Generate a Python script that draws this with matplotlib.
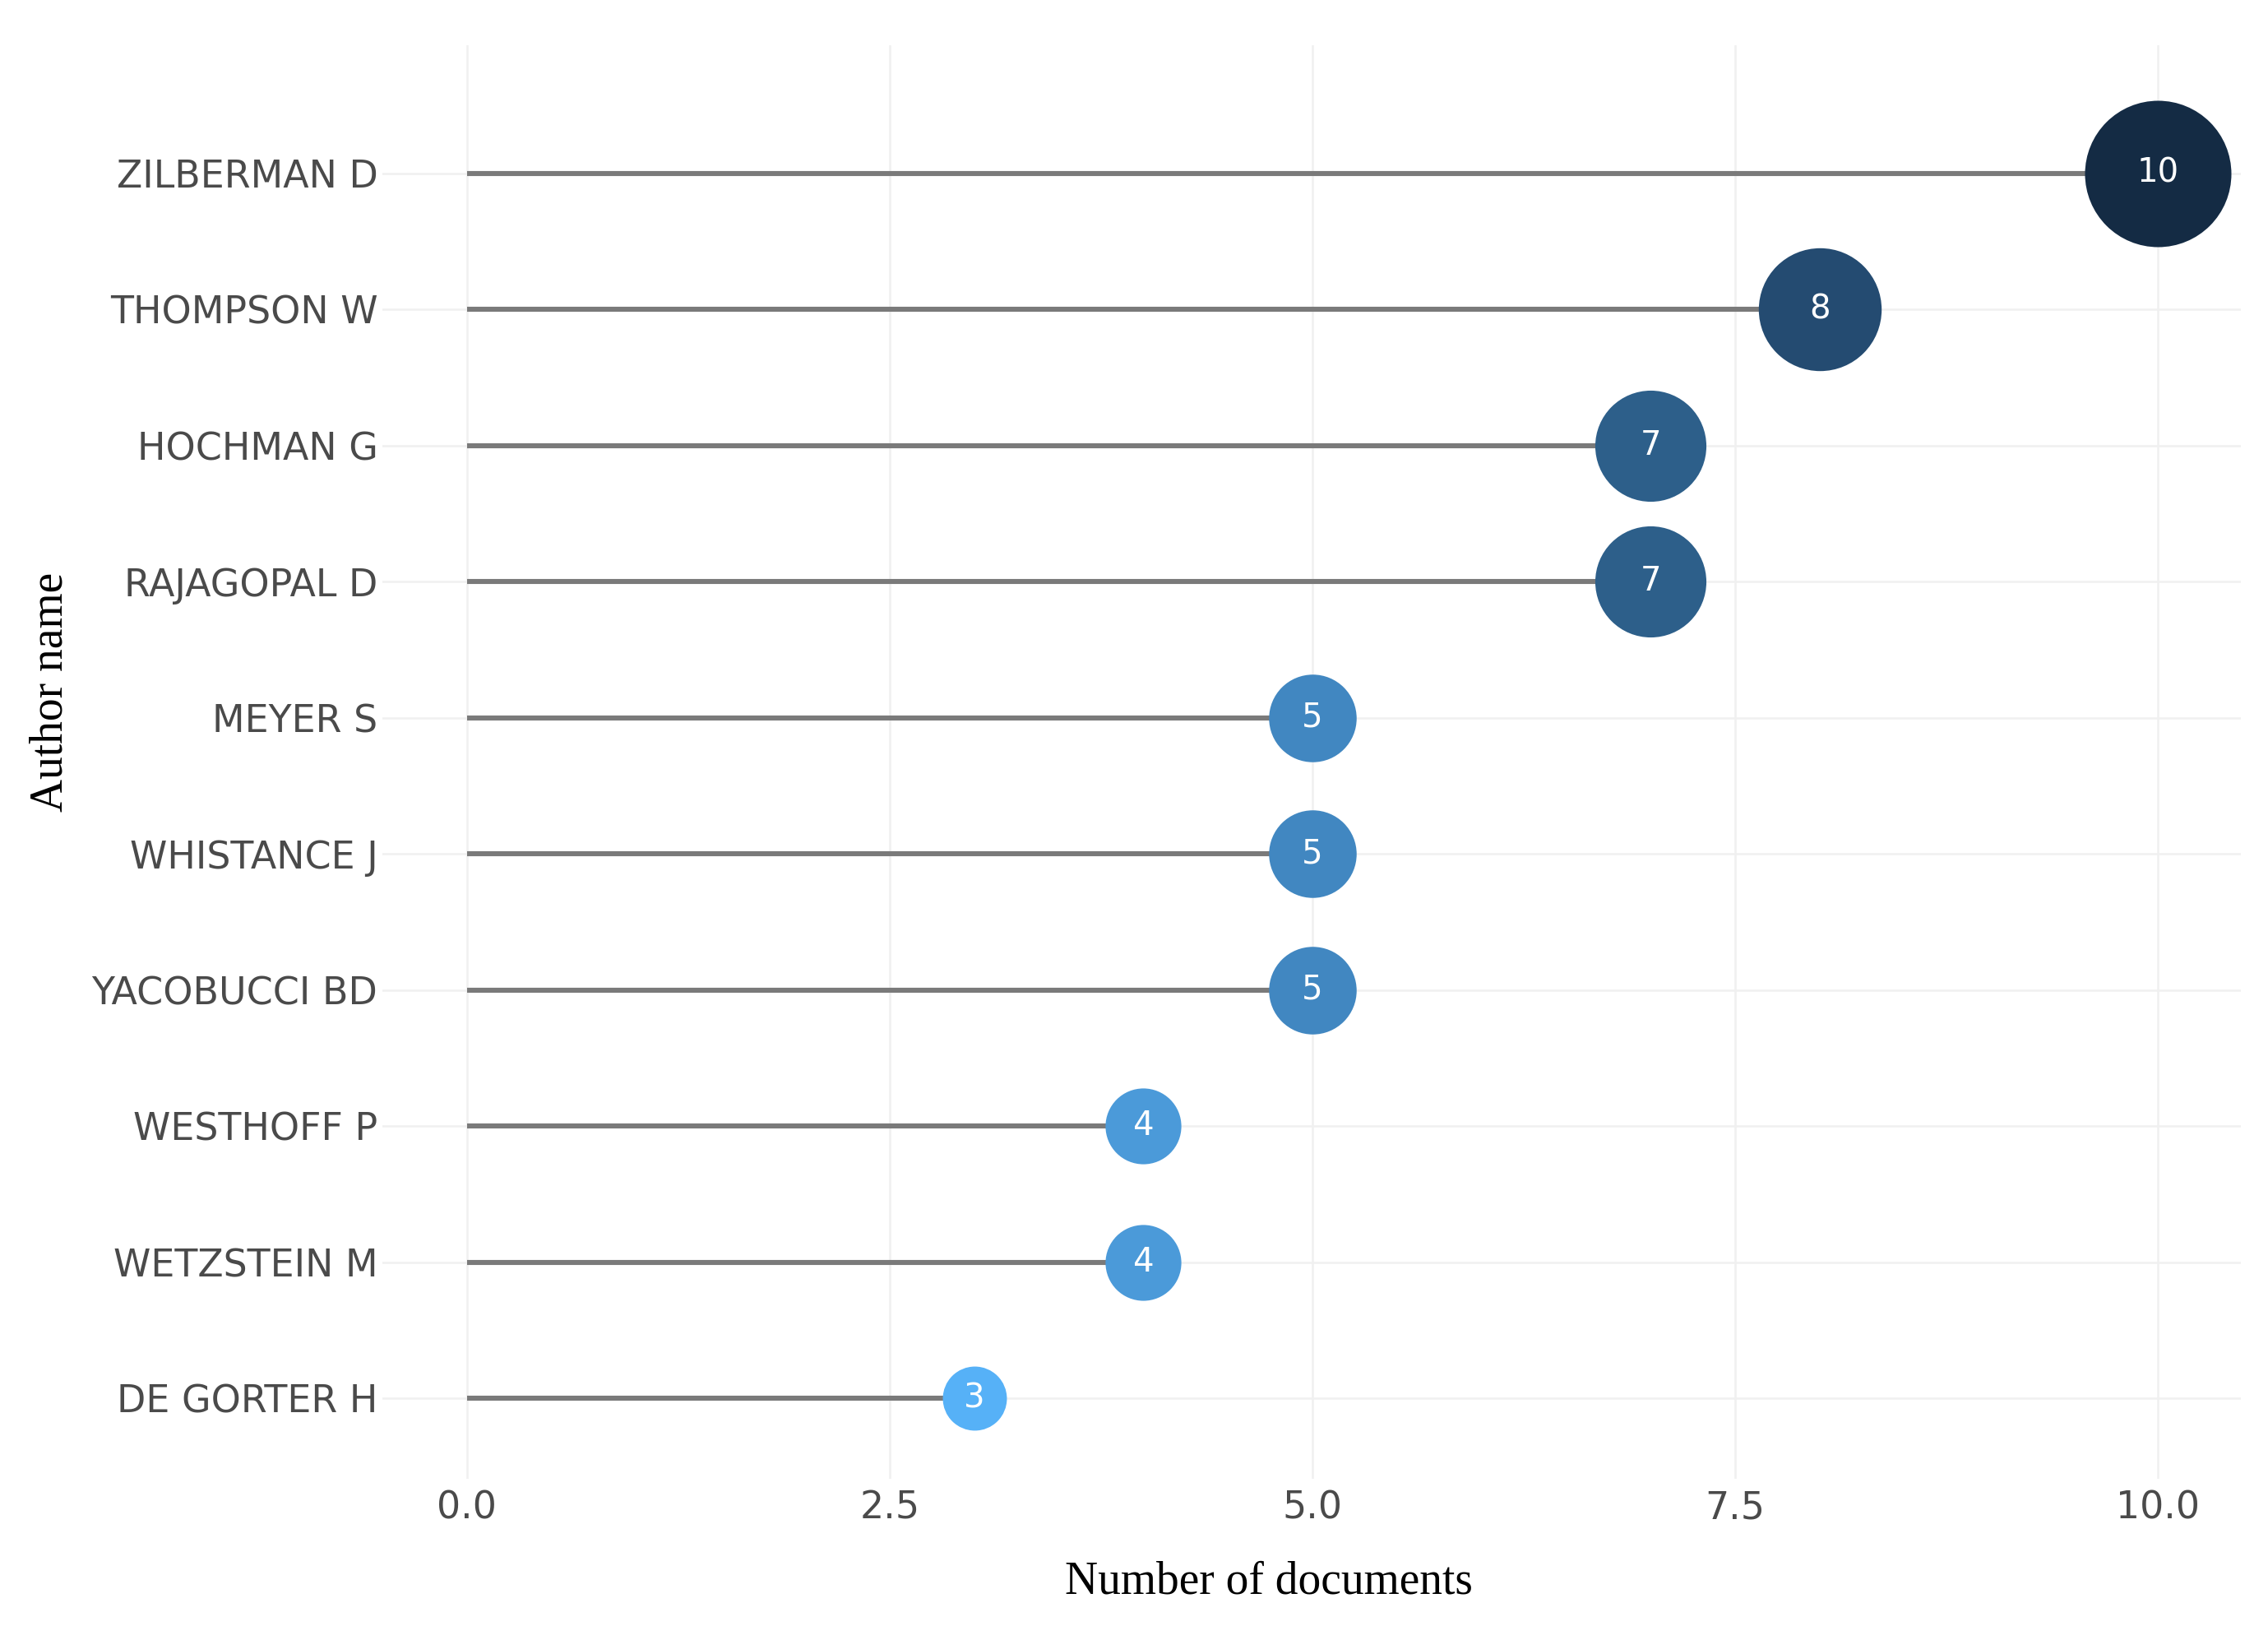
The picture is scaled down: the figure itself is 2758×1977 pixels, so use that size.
import matplotlib
matplotlib.use('Agg')
import matplotlib.pyplot as plt
from matplotlib.colors import LinearSegmentedColormap, Normalize

plt.rcParams['font.family'] = ['DejaVu Sans']

# ── Data (top to bottom as shown) ──
authors = ['ZILBERMAN D', 'THOMPSON W', 'HOCHMAN G', 'RAJAGOPAL D', 'MEYER S',
           'WHISTANCE J', 'YACOBUCCI BD', 'WESTHOFF P', 'WETZSTEIN M', 'DE GORTER H']
n_docs = [10, 8, 7, 7, 5, 5, 5, 4, 4, 3]
x_ticks = [0.0, 2.5, 5.0, 7.5, 10.0]

DPI = 200
fig = plt.figure(figsize=(2758 / DPI, 1977 / DPI), dpi=DPI, facecolor='white')
ax = fig.add_axes([465 / 2758, 1 - 1798 / 1977, (2725 - 465) / 2758, (1798 - 55) / 1977])

cmap = LinearSegmentedColormap.from_list('docs', [
    (0.00, '#56b1f7'), (0.14, '#4b9ad9'), (0.29, '#4187c0'),
    (0.57, '#2d5f8a'), (0.71, '#244b72'), (1.00, '#142b44')])
norm = Normalize(vmin=min(n_docs), vmax=max(n_docs))

ypos = list(range(len(authors)))[::-1]

for y, v in zip(ypos, n_docs):
    ax.plot([0, v], [y, y], color='#7a7a7a', linewidth=2.2, solid_capstyle='butt', zorder=2)
    d_px = 35 + 14.3 * v
    ax.plot([v], [y], 'o', markersize=d_px * 72 / DPI, color=cmap(norm(v)),
            markeredgewidth=0, zorder=3)
    ax.text(v, y, str(v), ha='center', va='center', color='white',
            fontsize=14.5, fontweight='medium', zorder=4)

ax.set_xlim(-0.50, 10.49)
ax.set_ylim(-0.59, 9.94)
ax.set_xticks(x_ticks)
ax.set_xticklabels([f'{t:.1f}' for t in x_ticks])
ax.set_yticks(ypos)
ax.set_yticklabels(authors)
ax.tick_params(axis='both', length=0, labelsize=16.5, labelcolor='#4a4a4a')
ax.tick_params(axis='y', pad=2)
ax.tick_params(axis='x', pad=5)
ax.grid(True, color='#f0f0f0', linewidth=0.9, zorder=0)
ax.set_axisbelow(True)
for s in ax.spines.values():
    s.set_visible(False)

fig.text(1543 / 2758, 1 - 1923 / 1977, 'Number of documents', ha='center', va='center',
         fontsize=20, family='Liberation Serif', color='black')
fig.text(62 / 2758, 1 - 841 / 1977, 'Author name', ha='center', va='center', rotation=90,
         fontsize=20, family='Liberation Serif', color='black')

fig.savefig('out.png', dpi=DPI, facecolor='white')
